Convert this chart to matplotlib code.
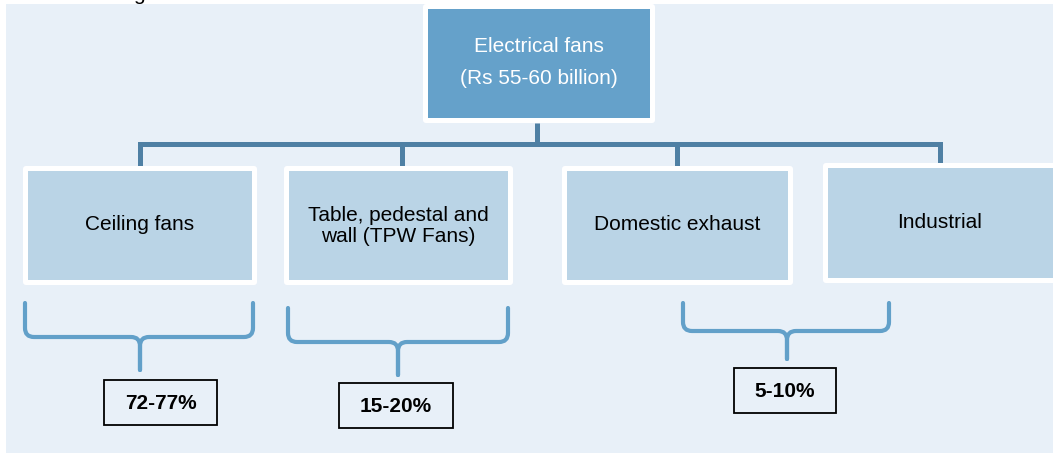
import matplotlib
matplotlib.use("Agg")
import matplotlib.pyplot as plt
from matplotlib.patches import Rectangle, FancyBboxPatch, PathPatch
from matplotlib.path import Path

# ---- data ----
root_label = "Electrical fans\n(Rs 55-60 billion)"
categories = ["Ceiling fans", "Table, pedestal and\nwall (TPW Fans)", "Domestic exhaust", "Industrial"]
share_labels = ["72-77%", "15-20%", "5-10%"]

# ---- layout (pixel coordinates, y downward) ----
W, H = 1053, 454
bg_box = (6, 4, 1053, 453)
root_box = (423, 4, 655, 123)
child_boxes = [(23, 166, 257, 285), (284, 166, 513, 285), (562, 166, 793, 285), (823, 163, 1060, 283)]
child_text_y = [225, 226, 225, 223]
bus_y = 144
drops_x = [140, 402, 677, 940]
# braces: x0, x1, ytop, yh, xm, ytip
braces = [(25, 253, 303, 337, 140, 370), (288, 508, 308, 342, 398, 375), (683, 889, 303, 331, 787, 359)]
share_boxes = [(104, 380, 217, 425), (339, 383, 453, 428), (734, 368, 836, 413)]

BG = "#e8f0f8"
ROOT = "#65a1ca"
CHILD = "#bad4e6"
LINE = "#4f80a4"
BRACE = "#62a0c9"
FONT = ["Liberation Sans", "DejaVu Sans"]

fig = plt.figure(figsize=(W / 100, H / 100), dpi=100)
ax = fig.add_axes([0, 0, 1, 1])
ax.set_xlim(0, W)
ax.set_ylim(H, 0)
ax.axis("off")

x0, y0, x1, y1 = bg_box
ax.add_patch(Rectangle((x0, y0), x1 - x0, y1 - y0, facecolor=BG, edgecolor="none", zorder=0))

# partial heading glyph cut at top
ax.text(139, 0.5, "g", fontsize=15, family=FONT, ha="center", va="baseline", color="black", zorder=1)


def box(b, fc, border=5):
    bx0, by0, bx1, by1 = b
    ax.add_patch(FancyBboxPatch((bx0, by0), bx1 - bx0, by1 - by0,
                                boxstyle="round,pad=0,rounding_size=3",
                                facecolor="white", edgecolor="none", zorder=3))
    ax.add_patch(Rectangle((bx0 + border, by0 + border), bx1 - bx0 - 2 * border, by1 - by0 - 2 * border,
                           facecolor=fc, edgecolor="none", zorder=4))


# connectors
lw = 3.6
ax.plot([drops_x[0], drops_x[0], drops_x[-1], drops_x[-1]],
        [child_boxes[0][1], bus_y, bus_y, child_boxes[-1][1]],
        color=LINE, lw=lw, solid_joinstyle="miter", solid_capstyle="butt", zorder=2)
for i in (1, 2):
    ax.plot([drops_x[i], drops_x[i]], [bus_y, child_boxes[i][1]], color=LINE, lw=lw,
            solid_capstyle="butt", zorder=2)
rx = (root_box[0] + root_box[2]) / 2 - 2
ax.plot([rx, rx], [root_box[3], bus_y], color=LINE, lw=lw, solid_capstyle="butt", zorder=2)

# root
box(root_box, ROOT)
ax.text((root_box[0] + root_box[2]) / 2, 47, root_label.split("\n")[0], fontsize=15, family=FONT,
        color="white", ha="center", va="center", zorder=5)
ax.text((root_box[0] + root_box[2]) / 2, 78, root_label.split("\n")[1], fontsize=15, family=FONT,
        color="white", ha="center", va="center", zorder=5)

# children
for b, lab, ty, dx in zip(child_boxes, categories, child_text_y, drops_x):
    box(b, CHILD)
    cx = dx if b[2] > W else (b[0] + b[2]) / 2
    ax.text(cx, ty, lab, fontsize=15, family=FONT, color="black", ha="center", va="center",
            linespacing=1.1, zorder=5)

# braces
r = 9
for (bx0, bx1, ytop, yh, xm, ytip) in braces:
    for side in (-1, 1):
        xe = bx0 if side == -1 else bx1
        s = 1 if side == -1 else -1
        verts = [(xe, ytop), (xe, yh - r), (xe, yh), (xe + s * r, yh),
                 (xm - s * r, yh), (xm, yh), (xm, yh + r), (xm, ytip)]
        codes = [Path.MOVETO, Path.LINETO, Path.CURVE3, Path.CURVE3,
                 Path.LINETO, Path.CURVE3, Path.CURVE3, Path.LINETO]
        ax.add_patch(PathPatch(Path(verts, codes), facecolor="none", edgecolor=BRACE, lw=3.0,
                               capstyle="round", joinstyle="round", zorder=2))

# share boxes
for b, lab in zip(share_boxes, share_labels):
    bx0, by0, bx1, by1 = b
    ax.add_patch(Rectangle((bx0, by0), bx1 - bx0, by1 - by0, facecolor="none", edgecolor="black",
                           lw=1.3, zorder=4))
    ax.text((bx0 + bx1) / 2, (by0 + by1) / 2 + 1, lab, fontsize=15, family=FONT, weight="bold",
            color="black", ha="center", va="center", zorder=5)

fig.savefig("out.png", dpi=100)
